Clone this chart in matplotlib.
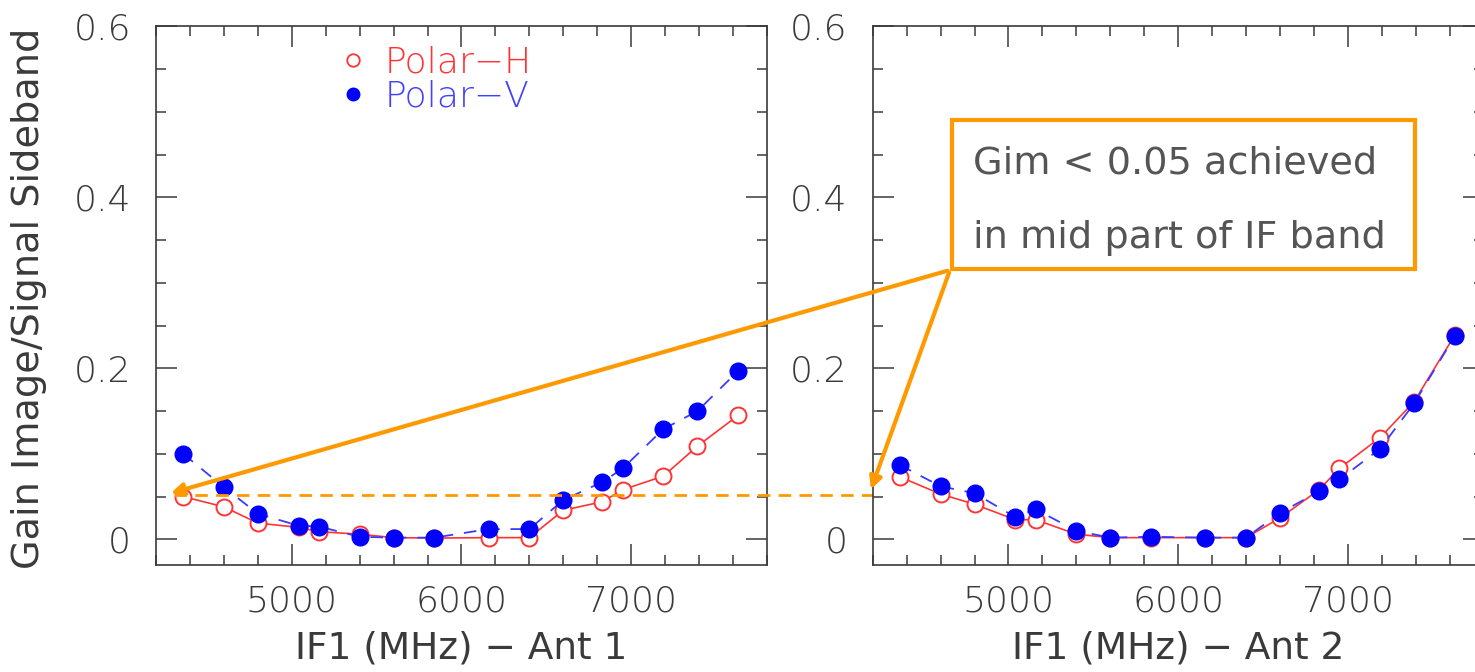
"""Image/signal sideband gain ratio vs IF1 frequency for two antennas."""

import matplotlib

matplotlib.use("Agg")
import matplotlib.pyplot as plt
from matplotlib.lines import Line2D
from matplotlib.patches import FancyArrowPatch, Rectangle
from matplotlib.ticker import MultipleLocator

# IF1 frequency of each measurement (MHz), same grid for both antennas
freq_mhz = [4360, 4600, 4800, 5040, 5160, 5400, 5600, 5840,
            6160, 6400, 6600, 6830, 6950, 7190, 7390, 7630]

ant1_polar_h = [0.050, 0.038, 0.019, 0.014, 0.009, 0.006, 0.002, 0.0015,
                0.002, 0.002, 0.034, 0.044, 0.058, 0.074, 0.109, 0.145]
ant1_polar_v = [0.100, 0.061, 0.030, 0.016, 0.015, 0.003, 0.002, 0.002,
                0.012, 0.012, 0.046, 0.067, 0.083, 0.129, 0.150, 0.197]
ant2_polar_h = [0.073, 0.053, 0.041, 0.023, 0.023, 0.006, 0.002, 0.002,
                0.002, 0.002, 0.025, 0.058, 0.083, 0.119, 0.161, 0.239]
ant2_polar_v = [0.087, 0.062, 0.054, 0.026, 0.035, 0.010, 0.002, 0.003,
                0.002, 0.002, 0.031, 0.056, 0.070, 0.106, 0.159, 0.238]

x_ticks = [5000, 6000, 7000]
x_tick_labels = ["5000", "6000", "7000"]
y_ticks = [0, 0.2, 0.4, 0.6]
y_tick_labels = ["0", "0.2", "0.4", "0.6"]
limit_level = 0.052
note_lines = ["Gim < 0.05 achieved", "in mid part of IF band"]

RED = "#ff3333"
BLUE = "#0000ff"
BLUE_LINE = "#3b3bff"
ORANGE = "#ff9900"
INK = "#3a3a3a"
W, H = 1475, 672


def fx(px):
    return px / W


def fy(py):
    return 1 - py / H


def style_axes(ax, xlabel):
    ax.set_xlim(4200, 7800)
    ax.set_ylim(-0.03, 0.6)
    ax.set_xticks(x_ticks, x_tick_labels)
    ax.set_yticks(y_ticks, y_tick_labels)
    ax.xaxis.set_minor_locator(MultipleLocator(200))
    ax.yaxis.set_minor_locator(MultipleLocator(0.05))
    ax.tick_params(which="both", direction="in", top=True, right=True,
                   color=INK, width=1.1, labelsize=26, labelcolor=INK)
    ax.tick_params(which="major", length=15)
    ax.tick_params(which="minor", length=7.5)
    ax.tick_params(axis="x", which="major", pad=14)
    ax.tick_params(axis="y", which="major", pad=18)
    for spine in ax.spines.values():
        spine.set_color(INK)
        spine.set_linewidth(1.2)
    ax.set_xlabel(xlabel, fontsize=27, color=INK, labelpad=9)


def plot_pair(ax, h_vals, v_vals):
    ax.plot(freq_mhz, h_vals, color=RED, lw=1.2, marker="o", ms=11.5,
            mfc="white", mec=RED, mew=1.4, zorder=3)
    ax.plot(freq_mhz, v_vals, color=BLUE_LINE, lw=1.3, ls=(0, (7, 6)),
            marker="o", ms=12, mfc=BLUE, mec=BLUE, zorder=4)


def main():
    plt.rcParams["font.family"] = ["DejaVu Sans"]
    plt.rcParams["font.weight"] = "light"

    fig = plt.figure(figsize=(W / 100, H / 100), dpi=100, facecolor="white")
    ax1 = fig.add_axes([fx(156), fy(565), 611 / W, 538.7 / H])
    ax2 = fig.add_axes([fx(872.7), fy(565), 611 / W, 538.7 / H])

    plot_pair(ax1, ant1_polar_h, ant1_polar_v)
    plot_pair(ax2, ant2_polar_h, ant2_polar_v)
    style_axes(ax1, "IF1 (MHz) \u2212 Ant 1")
    style_axes(ax2, "IF1 (MHz) \u2212 Ant 2")

    ax1.set_ylabel("Gain Image/Signal Sideband", fontsize=27.5, color=INK)
    ax1.yaxis.set_label_coords(-0.178, 0.495)

    handles = [
        Line2D([], [], ls="none", marker="o", ms=9, mfc="white", mec=RED, mew=1.3),
        Line2D([], [], ls="none", marker="o", ms=9, mfc=BLUE, mec=BLUE),
    ]
    ax1.legend(handles, ["Polar\u2212H", "Polar\u2212V"], loc="upper left",
               bbox_to_anchor=(0.304, 0.965), frameon=False, fontsize=26,
               handlelength=0.6, handletextpad=0.6, borderpad=0,
               borderaxespad=0, labelspacing=0.0, labelcolor=[RED, "#4040ff"])

    # dashed threshold line running across both panels
    ax1.axhline(limit_level, xmin=0.03, xmax=2.2, color=ORANGE, lw=2,
                ls=(0, (4.5, 3)), clip_on=False, zorder=5)

    corner = (fx(950), fy(270))
    for tip in [(fx(168), fy(494)), (fx(870), fy(492))]:
        fig.add_artist(FancyArrowPatch(corner, tip, transform=fig.transFigure,
                                       arrowstyle="-|>", mutation_scale=18,
                                       lw=3, color=ORANGE, zorder=6))

    fig.add_artist(Rectangle((fx(952), fy(269)), (1415 - 952) / W, (269 - 120) / H,
                             transform=fig.transFigure, facecolor="white",
                             edgecolor=ORANGE, lw=3, zorder=7))
    for text, base in zip(note_lines, [174, 248]):
        fig.text(fx(973), fy(base), text, fontsize=27.5, color="#555555",
                 va="baseline", weight="normal", zorder=8)

    fig.savefig("out.png", dpi=100, facecolor="white")
    plt.close(fig)


if __name__ == "__main__":
    main()
